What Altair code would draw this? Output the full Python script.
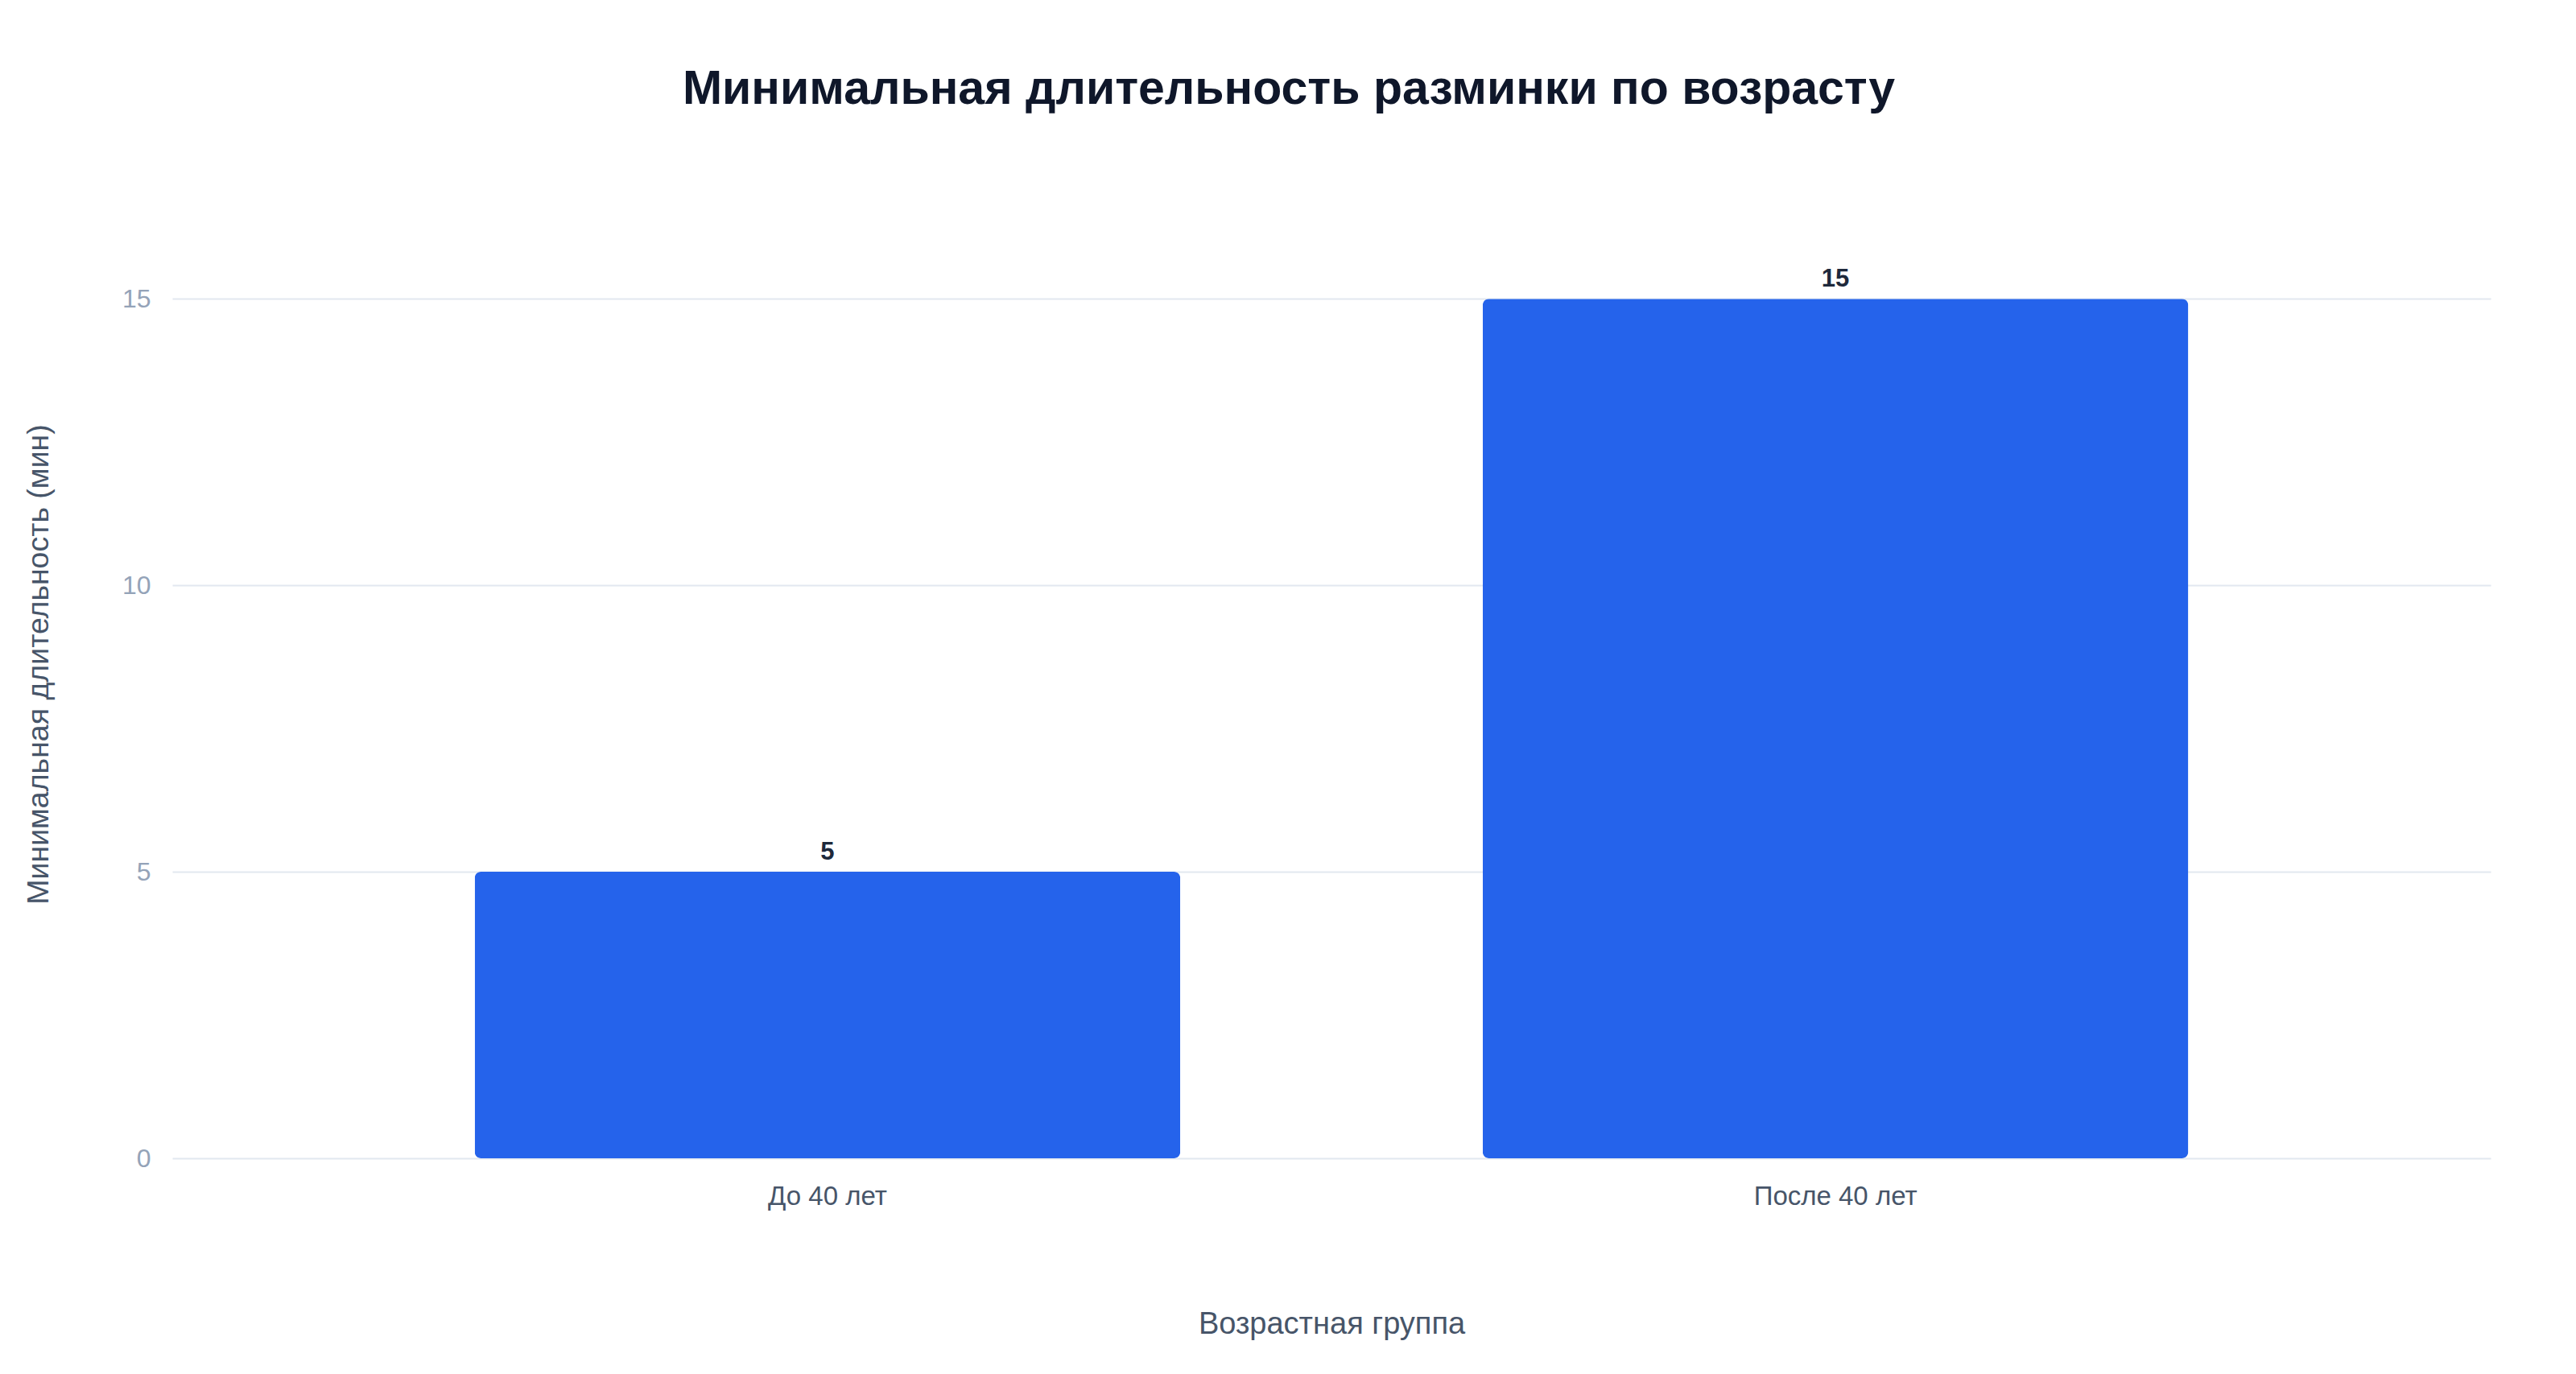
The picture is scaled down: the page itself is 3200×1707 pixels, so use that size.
import altair as alt
import pandas as pd

groups = ["До 40 лет", "После 40 лет"]
minutes = [5, 15]
y_ticks = [0, 5, 10, 15]

FONT = "Liberation Sans"

df = pd.DataFrame({"Группа": groups, "Минуты": minutes})

base = alt.Chart(df).encode(
    x=alt.X(
        "Группа:N",
        sort=groups,
        title="Возрастная группа",
        scale=alt.Scale(paddingInner=0.3, paddingOuter=0.3),
        axis=alt.Axis(
            labelAngle=0,
            labelFontSize=33,
            labelColor="#475569",
            labelFont=FONT,
            labelPadding=31,
            labelLimit=0,
            ticks=False,
            domain=False,
            titleFontSize=38,
            titleFont=FONT,
            titleFontWeight="normal",
            titleColor="#475569",
            titlePadding=123,
        ),
    ),
    y=alt.Y(
        "Минуты:Q",
        title="Минимальная длительность (мин)",
        scale=alt.Scale(domain=[0, 17.25], nice=False),
        axis=alt.Axis(
            values=y_ticks,
            labelFontSize=32,
            labelColor="#94a3b8",
            labelFont=FONT,
            labelPadding=27,
            ticks=False,
            domain=False,
            gridColor="#e2e8f0",
            gridWidth=2,
            titleFontSize=37.5,
            titleFont=FONT,
            titleFontWeight="normal",
            titleColor="#475569",
            titlePadding=84,
        ),
    ),
)

bars = base.mark_bar(color="#2563eb", cornerRadius=8)

labels = base.mark_text(
    baseline="alphabetic",
    dy=-15,
    fontSize=31,
    fontWeight="bold",
    font=FONT,
    color="#1e293b",
).encode(text="Минуты:Q")

chart = (
    (bars + labels)
    .properties(
        width=2880,
        height=1228,
        background="white",
        autosize=alt.AutoSizeParams(type="none"),
        padding={"left": 206, "top": 203, "right": 90, "bottom": 250},
        title=alt.TitleParams(
            "Минимальная длительность разминки по возрасту",
            fontSize=59,
            font=FONT,
            fontWeight="bold",
            color="#0f172a",
            anchor="middle",
            dx=-53,
            offset=70,
        ),
    )
    .configure_view(stroke=None, strokeWidth=0)
)

chart.save("out.html", embed_options={"renderer": "svg", "actions": False})
